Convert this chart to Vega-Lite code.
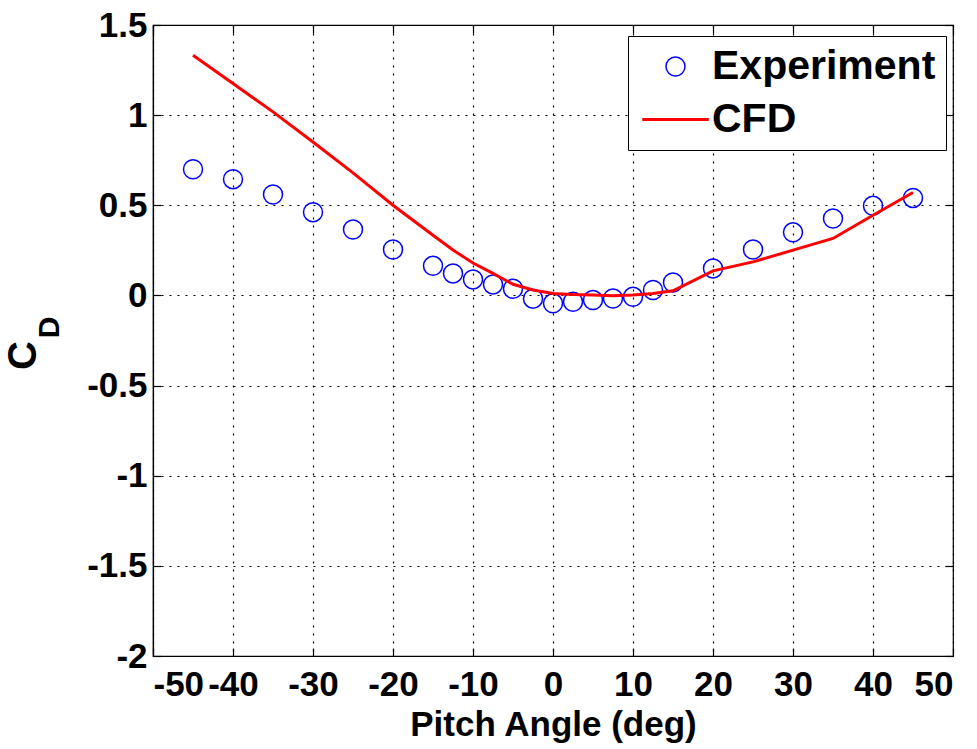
{
  "$schema": "https://vega.github.io/schema/vega-lite/v6.json",
  "width": 800,
  "height": 631,
  "autosize": {"type": "none"},
  "padding": {"left": 153, "top": 25, "right": 24, "bottom": 93},
  "background": "white",
  "config": {
    "view": {"stroke": "black", "strokeWidth": 1.2},
    "font": "Liberation Sans",
    "axis": {
      "labelFont": "Liberation Sans",
      "labelFontWeight": "bold",
      "labelFontSize": 35,
      "labelColor": "black",
      "titleFont": "Liberation Sans",
      "titleFontWeight": "bold",
      "titleColor": "black",
      "domainColor": "black",
      "domainWidth": 1.2,
      "tickColor": "black",
      "tickWidth": 1.2,
      "gridColor": "black",
      "gridDash": [2, 6],
      "gridWidth": 1.2,
      "gridOpacity": 1
    }
  },
  "datasets": {
    "experiment": [
      {"pitch": -45, "cd": 0.700, "series": "Experiment"},
      {"pitch": -40, "cd": 0.645, "series": "Experiment"},
      {"pitch": -35, "cd": 0.560, "series": "Experiment"},
      {"pitch": -30, "cd": 0.462, "series": "Experiment"},
      {"pitch": -25, "cd": 0.366, "series": "Experiment"},
      {"pitch": -20, "cd": 0.255, "series": "Experiment"},
      {"pitch": -15, "cd": 0.164, "series": "Experiment"},
      {"pitch": -12.5, "cd": 0.122, "series": "Experiment"},
      {"pitch": -10, "cd": 0.089, "series": "Experiment"},
      {"pitch": -7.5, "cd": 0.061, "series": "Experiment"},
      {"pitch": -5, "cd": 0.037, "series": "Experiment"},
      {"pitch": -2.5, "cd": -0.018, "series": "Experiment"},
      {"pitch": 0, "cd": -0.044, "series": "Experiment"},
      {"pitch": 2.5, "cd": -0.035, "series": "Experiment"},
      {"pitch": 5, "cd": -0.026, "series": "Experiment"},
      {"pitch": 7.5, "cd": -0.017, "series": "Experiment"},
      {"pitch": 10, "cd": -0.008, "series": "Experiment"},
      {"pitch": 12.5, "cd": 0.030, "series": "Experiment"},
      {"pitch": 15, "cd": 0.072, "series": "Experiment"},
      {"pitch": 20, "cd": 0.150, "series": "Experiment"},
      {"pitch": 25, "cd": 0.255, "series": "Experiment"},
      {"pitch": 30, "cd": 0.350, "series": "Experiment"},
      {"pitch": 35, "cd": 0.427, "series": "Experiment"},
      {"pitch": 40, "cd": 0.497, "series": "Experiment"},
      {"pitch": 45, "cd": 0.541, "series": "Experiment"}
    ],
    "cfd": [
      {"pitch": -45, "cd": 1.332, "series": "CFD"},
      {"pitch": -40, "cd": 1.175, "series": "CFD"},
      {"pitch": -35, "cd": 1.018, "series": "CFD"},
      {"pitch": -30, "cd": 0.851, "series": "CFD"},
      {"pitch": -25, "cd": 0.680, "series": "CFD"},
      {"pitch": -20, "cd": 0.500, "series": "CFD"},
      {"pitch": -15, "cd": 0.334, "series": "CFD"},
      {"pitch": -12.5, "cd": 0.252, "series": "CFD"},
      {"pitch": -10, "cd": 0.180, "series": "CFD"},
      {"pitch": -7.5, "cd": 0.122, "series": "CFD"},
      {"pitch": -5, "cd": 0.062, "series": "CFD"},
      {"pitch": -2.5, "cd": 0.030, "series": "CFD"},
      {"pitch": 0, "cd": 0.011, "series": "CFD"},
      {"pitch": 2.5, "cd": 0.005, "series": "CFD"},
      {"pitch": 5, "cd": 0.002, "series": "CFD"},
      {"pitch": 7.5, "cd": -0.002, "series": "CFD"},
      {"pitch": 10, "cd": 0.002, "series": "CFD"},
      {"pitch": 12.5, "cd": 0.011, "series": "CFD"},
      {"pitch": 15, "cd": 0.026, "series": "CFD"},
      {"pitch": 20, "cd": 0.136, "series": "CFD"},
      {"pitch": 25, "cd": 0.186, "series": "CFD"},
      {"pitch": 30, "cd": 0.251, "series": "CFD"},
      {"pitch": 35, "cd": 0.316, "series": "CFD"},
      {"pitch": 40, "cd": 0.445, "series": "CFD"},
      {"pitch": 45, "cd": 0.571, "series": "CFD"}
    ]
  },
  "resolve": {"axis": {"x": "independent", "y": "independent"}},
  "layer": [
    {
      "data": {"name": "experiment"},
      "mark": {"type": "point", "filled": false, "size": 361, "opacity": 1},
      "encoding": {
        "x": {
          "field": "pitch", "type": "quantitative",
          "scale": {"domain": [-50, 50], "nice": false, "zero": false},
          "axis": {
            "orient": "bottom",
            "values": [-50, -40, -30, -20, -10, 0, 10, 20, 30, 40, 50],
            "labelExpr": "'' + datum.value",
            "tickSize": -8,
            "labelPadding": 19,
            "labelBaseline": "top",
            "grid": true,
            "title": "Pitch Angle (deg)",
            "titleFontSize": 35,
            "titleBaseline": "alphabetic",
            "titleY": 79,
            "titleX": 400,
            "titleAlign": "center"
          }
        },
        "y": {
          "field": "cd", "type": "quantitative",
          "scale": {"domain": [-2, 1.5], "nice": false, "zero": false},
          "axis": {
            "orient": "left",
            "values": [-2, -1.5, -1, -0.5, 0, 0.5, 1, 1.5],
            "labelExpr": "'' + datum.value",
            "tickSize": -8,
            "labelPadding": 14,
            "grid": true,
            "title": "C",
            "titleFontSize": 40,
            "titleAngle": 270,
            "titleAlign": "center",
            "titleBaseline": "alphabetic",
            "titleX": -118,
            "titleY": 330
          }
        },
        "color": {
          "field": "series", "type": "nominal",
          "scale": {"domain": ["Experiment", "CFD"], "range": ["#0000ff", "#ff0000"]},
          "legend": {
            "orient": "none",
            "legendX": 475,
            "legendY": 11,
            "title": null,
            "strokeColor": "black",
            "fillColor": "white",
            "padding": 10,
            "labelFont": "Liberation Sans",
            "labelFontWeight": "bold",
            "labelFontSize": 41,
            "labelColor": "black",
            "labelLimit": 400,
            "symbolOffset": 17,
            "labelOffset": 16,
            "rowPadding": 11,
            "symbolSize": 361
          }
        },
        "shape": {
          "field": "series", "type": "nominal",
          "scale": {"domain": ["Experiment", "CFD"], "range": ["circle", "M-3.5,0H3.5"]}
        },
        "strokeWidth": {
          "field": "series", "type": "nominal",
          "scale": {"domain": ["Experiment", "CFD"], "range": [1.5, 3]}
        }
      }
    },
    {
      "data": {"name": "cfd"},
      "mark": {"type": "line"},
      "encoding": {
        "x": {
          "field": "pitch", "type": "quantitative",
          "axis": {
            "orient": "top",
            "values": [-50, -40, -30, -20, -10, 0, 10, 20, 30, 40, 50],
            "labels": false, "domain": false, "grid": false,
            "tickSize": -8, "title": null
          }
        },
        "y": {
          "field": "cd", "type": "quantitative",
          "axis": {
            "orient": "left",
            "labels": false, "ticks": false, "domain": false, "grid": false,
            "title": "D",
            "titleFontSize": 30,
            "titleAngle": 270,
            "titleAlign": "center",
            "titleBaseline": "alphabetic",
            "titleX": -95,
            "titleY": 302
          }
        },
        "color": {"field": "series", "type": "nominal"},
        "strokeWidth": {"field": "series", "type": "nominal"}
      }
    },
    {
      "data": {"name": "cfd"},
      "mark": {"type": "line", "strokeOpacity": 0},
      "encoding": {
        "x": {"field": "pitch", "type": "quantitative", "axis": null},
        "y": {
          "field": "cd", "type": "quantitative",
          "axis": {
            "orient": "right",
            "values": [-2, -1.5, -1, -0.5, 0, 0.5, 1, 1.5],
            "labels": false, "domain": false, "grid": false,
            "tickSize": -8, "title": null
          }
        }
      }
    }
  ]
}
